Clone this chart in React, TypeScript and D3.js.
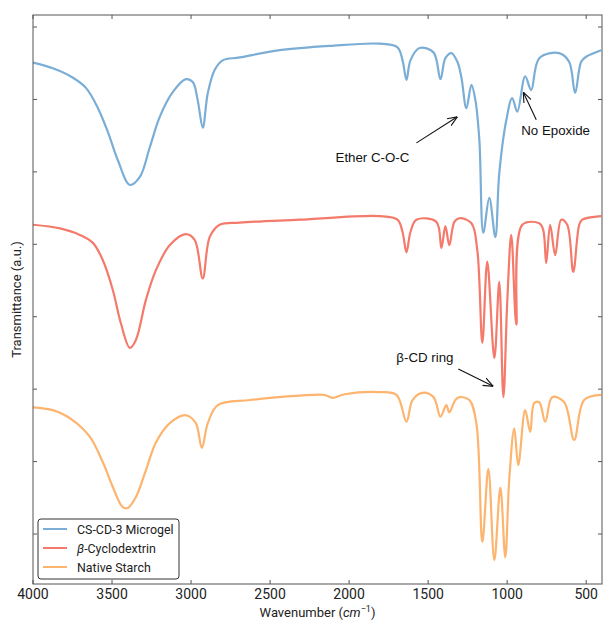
import React, { useEffect, useRef } from 'react';
import * as d3 from 'd3';

// wavenumber (cm^-1) and transmittance (a.u., offset per trace)
const microgelWn = [4000, 3874, 3747, 3665, 3589, 3526, 3463, 3387, 3324, 3261, 3198, 3116, 3033, 2989, 2958, 2926, 2894, 2850, 2800, 2692, 2440, 2124, 1808, 1694, 1662, 1637, 1612, 1555, 1466, 1422, 1391, 1353, 1315, 1290, 1258, 1226, 1201, 1176, 1151, 1113, 1075, 1050, 1005, 968, 936, 886, 848, 797, 671, 608, 570, 532, 500, 405];
const microgelT = [6.51, 6.43, 6.3, 6.16, 5.88, 5.55, 5.16, 4.82, 4.93, 5.34, 5.76, 6.1, 6.28, 6.24, 5.99, 5.61, 6.09, 6.41, 6.54, 6.58, 6.68, 6.74, 6.77, 6.72, 6.54, 6.27, 6.54, 6.71, 6.65, 6.28, 6.57, 6.64, 6.52, 6.31, 5.88, 6.2, 5.99, 5.44, 4.16, 4.64, 4.1, 4.98, 5.72, 6.02, 5.83, 6.32, 6.13, 6.57, 6.64, 6.52, 6.09, 6.52, 6.59, 6.68];

const cyclodextrinWn = [4000, 3829, 3703, 3621, 3558, 3495, 3444, 3387, 3349, 3286, 3223, 3134, 3033, 2977, 2926, 2882, 2819, 2692, 2313, 1808, 1694, 1662, 1637, 1612, 1574, 1448, 1416, 1391, 1366, 1334, 1302, 1226, 1189, 1157, 1126, 1081, 1050, 1024, 999, 974, 942, 904, 797, 772, 753, 728, 696, 658, 620, 582, 544, 525, 405];
const cyclodextrinT = [4.27, 4.22, 4.13, 4.02, 3.78, 3.37, 2.91, 2.57, 2.68, 3.23, 3.64, 3.99, 4.14, 4.06, 3.53, 4.1, 4.27, 4.3, 4.34, 4.39, 4.34, 4.17, 3.89, 4.17, 4.34, 4.31, 3.95, 4.25, 3.99, 4.31, 4.36, 4.29, 3.92, 2.64, 3.76, 2.43, 3.48, 1.89, 3.23, 4.13, 2.89, 4.27, 4.29, 4.2, 3.74, 4.27, 3.85, 4.34, 4.27, 3.62, 4.27, 4.34, 4.39];

const starchWn = [4000, 3874, 3747, 3640, 3558, 3495, 3432, 3400, 3349, 3286, 3223, 3134, 3033, 2970, 2932, 2894, 2831, 2629, 2313, 2155, 2105, 2029, 1808, 1700, 1637, 1599, 1536, 1466, 1422, 1385, 1366, 1328, 1302, 1239, 1195, 1157, 1119, 1081, 1043, 1012, 987, 955, 930, 886, 854, 829, 797, 759, 715, 639, 576, 513, 405];
const starchT = [1.75, 1.71, 1.57, 1.34, 0.99, 0.65, 0.37, 0.36, 0.51, 0.88, 1.26, 1.53, 1.64, 1.53, 1.19, 1.53, 1.78, 1.85, 1.91, 1.92, 1.88, 1.93, 1.96, 1.92, 1.55, 1.85, 1.95, 1.89, 1.62, 1.78, 1.68, 1.85, 1.89, 1.85, 1.53, -0.11, 0.9, -0.36, 0.64, -0.32, 0.75, 1.46, 0.95, 1.71, 1.41, 1.81, 1.82, 1.55, 1.89, 1.82, 1.3, 1.85, 1.92];

const seriesNames = ['CS-CD-3 Microgel', 'β-Cyclodextrin', 'Native Starch'];
const seriesColors = ['#7aaed6', '#f47a6c', '#fdb46e'];

const xTicks = [4000, 3500, 3000, 2500, 2000, 1500, 1000, 500];
const yTicks = [0, 1, 2, 3, 4, 5, 6, 7];

// annotations: [label, text wn, text T, arrow start wn, arrow start T, arrow end wn, arrow end T]
const notes: [string, number, number, number, number, number, number][] = [
  ['Ether C-O-C', 2086, 5.14, 1574, 5.4, 1315, 5.76],
  ['No Epoxide', 911, 5.51, 816, 5.72, 898, 6.1],
  ['β-CD ring', 1701, 2.37, 1309, 2.28, 1088, 2.04],
];

const W = 603;
const H = 621;
const margin = { top: 15, right: 1, bottom: 37, left: 33 };

export default function App() {
  const svgRef = useRef<SVGSVGElement>(null);

  useEffect(() => {
    if (!svgRef.current) return;
    const svg = d3.select(svgRef.current);
    svg.selectAll('*').remove();

    const x0 = margin.left, x1 = W - margin.right;
    const y0 = margin.top, y1 = H - margin.bottom;

    const x = d3.scaleLinear().domain([4000, 400]).range([x0, x1]);
    const y = d3.scaleLinear().domain([-0.69, 7.166]).range([y1, y0]);

    svg.append('rect').attr('width', W).attr('height', H).attr('fill', '#fff');

    const defs = svg.append('defs');
    defs.append('clipPath').attr('id', 'plot-clip')
      .append('rect').attr('x', x0).attr('y', y0).attr('width', x1 - x0).attr('height', y1 - y0);

    const line = d3.line<[number, number]>()
      .x(d => x(d[0])).y(d => y(d[1]))
      .curve(d3.curveCatmullRom.alpha(0.5));

    const traces = [
      d3.zip(microgelWn, microgelT),
      d3.zip(cyclodextrinWn, cyclodextrinT),
      d3.zip(starchWn, starchT),
    ] as [number, number][][];

    const plot = svg.append('g').attr('clip-path', 'url(#plot-clip)');
    traces.forEach((pts, i) => {
      plot.append('path')
        .datum(pts)
        .attr('d', line)
        .attr('fill', 'none')
        .attr('stroke', seriesColors[i])
        .attr('stroke-width', 2.2)
        .attr('stroke-linejoin', 'round');
    });

    // frame + inward ticks
    const axisColor = '#555';
    svg.append('rect')
      .attr('x', x0).attr('y', y0).attr('width', x1 - x0).attr('height', y1 - y0)
      .attr('fill', 'none').attr('stroke', axisColor).attr('stroke-width', 1);

    const tl = 4;
    xTicks.forEach(t => {
      const px = x(t);
      svg.append('line').attr('x1', px).attr('x2', px).attr('y1', y1).attr('y2', y1 - tl).attr('stroke', axisColor);
      svg.append('line').attr('x1', px).attr('x2', px).attr('y1', y0).attr('y2', y0 + tl).attr('stroke', axisColor);
      svg.append('text')
        .attr('x', px).attr('y', y1 + 15)
        .attr('text-anchor', 'middle')
        .attr('font-family', 'Roboto, sans-serif').attr('font-size', 14)
        .attr('fill', '#222')
        .text(t);
    });
    yTicks.forEach(t => {
      const py = y(t);
      svg.append('line').attr('x1', x0).attr('x2', x0 + tl).attr('y1', py).attr('y2', py).attr('stroke', axisColor);
      svg.append('line').attr('x1', x1).attr('x2', x1 - tl).attr('y1', py).attr('y2', py).attr('stroke', axisColor);
    });

    // axis labels
    const xl = svg.append('text')
      .attr('x', (x0 + x1) / 2).attr('y', 617)
      .attr('text-anchor', 'middle')
      .attr('font-family', 'Roboto, sans-serif').attr('font-size', 13)
      .attr('fill', '#222');
    xl.append('tspan').text('Wavenumber (');
    xl.append('tspan').attr('font-style', 'italic').text('cm');
    xl.append('tspan').attr('font-size', 9).attr('dy', -5).text('−1');
    xl.append('tspan').attr('dy', 5).text(')');

    svg.append('text')
      .attr('transform', `translate(21,${(y0 + y1) / 2}) rotate(-90)`)
      .attr('text-anchor', 'middle')
      .attr('font-family', 'Roboto, sans-serif').attr('font-size', 13)
      .attr('fill', '#222')
      .text('Transmittance (a.u.)');

    // annotations
    defs.append('marker')
      .attr('id', 'arrow-head')
      .attr('viewBox', '0 0 10 10')
      .attr('refX', 10).attr('refY', 5)
      .attr('markerWidth', 10).attr('markerHeight', 10)
      .attr('markerUnits', 'userSpaceOnUse')
      .attr('orient', 'auto')
      .append('path')
      .attr('d', 'M0,1 L10,5 L0,9')
      .attr('fill', 'none').attr('stroke', '#111').attr('stroke-width', 1.1);

    notes.forEach(([label, tw, tt, sw, st, ew, et]) => {
      svg.append('line')
        .attr('x1', x(sw)).attr('y1', y(st))
        .attr('x2', x(ew)).attr('y2', y(et))
        .attr('stroke', '#111').attr('stroke-width', 1.1)
        .attr('marker-end', 'url(#arrow-head)');
      svg.append('text')
        .attr('x', x(tw)).attr('y', y(tt))
        .attr('font-family', '"Liberation Sans", Arial, sans-serif').attr('font-size', 13.3)
        .attr('fill', '#111')
        .text(label);
    });

    // legend
    const lg = svg.append('g').attr('transform', 'translate(38,519)');
    lg.append('rect')
      .attr('width', 141).attr('height', 60).attr('rx', 3)
      .attr('fill', '#fff').attr('stroke', '#333').attr('stroke-width', 1);
    seriesNames.forEach((name, i) => {
      const ly = 10 + i * 19;
      lg.append('line')
        .attr('x1', 5).attr('x2', 29).attr('y1', ly).attr('y2', ly)
        .attr('stroke', seriesColors[i]).attr('stroke-width', 2);
      const t = lg.append('text')
        .attr('x', 39).attr('y', ly + 4.5)
        .attr('font-family', 'Roboto, sans-serif').attr('font-size', 12.4)
        .attr('fill', '#222');
      if (name.startsWith('β')) {
        t.append('tspan').attr('font-style', 'italic').text('β');
        t.append('tspan').text(name.slice(1));
      } else {
        t.text(name);
      }
    });
  }, []);

  return (
    <svg ref={svgRef} width={W} height={H} viewBox={`0 0 ${W} ${H}`}
      style={{ position: 'absolute', left: 0, top: 0, display: 'block' }} />
  );
}
